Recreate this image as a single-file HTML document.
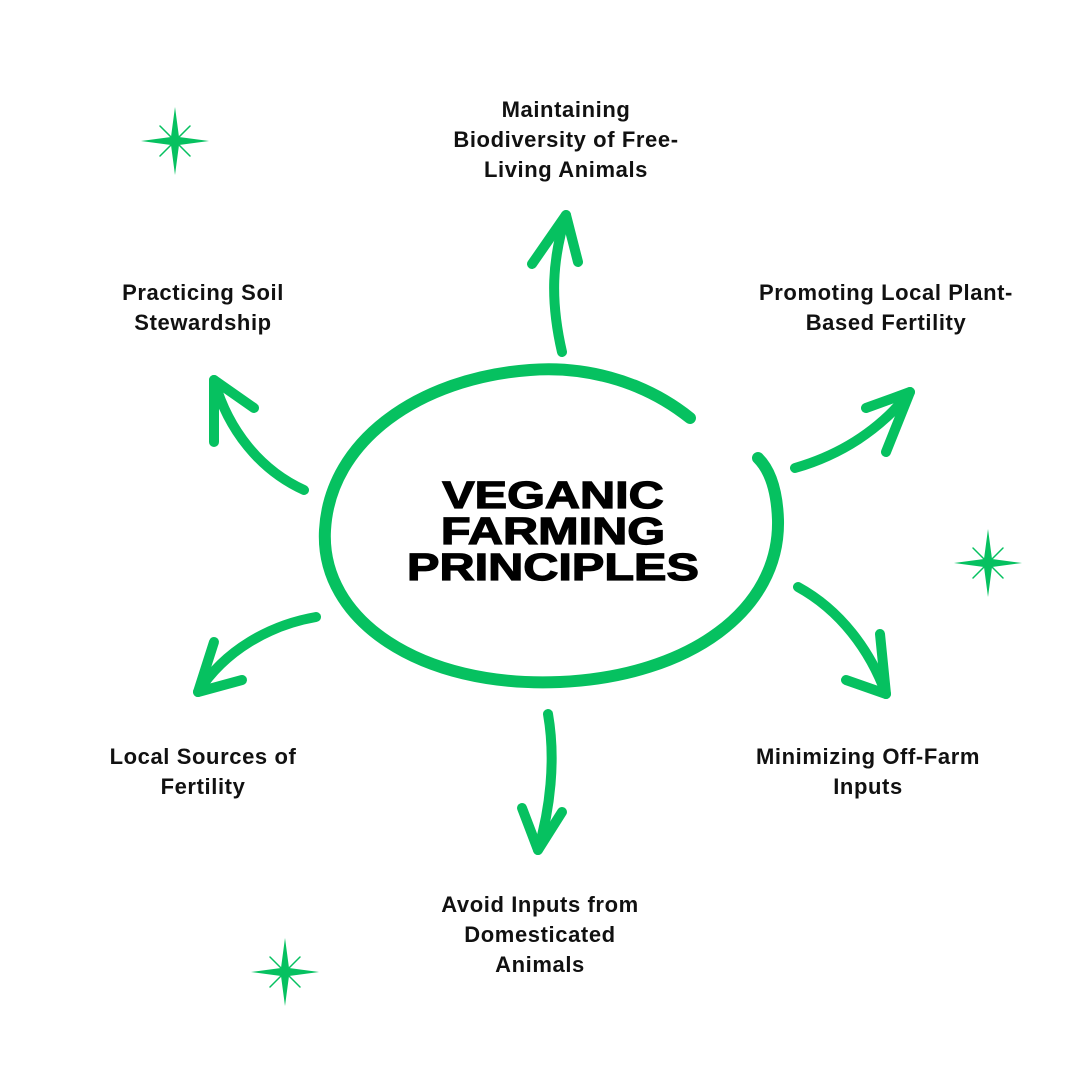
<!DOCTYPE html>
<html><head><meta charset="utf-8"><style>
html,body{margin:0;padding:0;background:#fff}
.wrap{position:relative;width:1080px;height:1080px;overflow:hidden;background:#fff}
.lbl{position:absolute;font-family:"Liberation Sans",sans-serif;font-weight:bold;font-size:22px;letter-spacing:0.6px;line-height:30px;color:#111;text-align:center;white-space:nowrap;transform:translateX(-50%)}
.title{position:absolute;left:553px;top:478px;transform:translateX(-50%) scaleX(1.28);font-family:"Liberation Sans",sans-serif;font-weight:900;font-size:38px;line-height:36px;color:#000;text-align:center;white-space:nowrap;-webkit-text-stroke:1.2px #000}
</style></head><body><div class="wrap">
<svg width="1080" height="1080" style="position:absolute;left:0;top:0" fill="none" stroke="#06c160" stroke-linecap="round" stroke-linejoin="round">
<path d="M690 418 C640 378 580 366 530 370 C420 378 330 440 325 530 C320 620 420 688 560 682 C690 676 780 610 778 520 C777 490 770 470 758 458" stroke-width="12"/>
<g stroke-width="10">
<path d="M562 352 C550 300 552 260 566 215"/><path d="M532 264 L566 215 L578 262"/>
<path d="M795 468 C840 455 880 430 910 392"/><path d="M866 408 L910 392 L886 452"/>
<path d="M798 587 C840 610 870 650 886 694"/><path d="M880 634 L886 694 L846 680"/>
<path d="M548 714 C556 760 550 810 538 850"/><path d="M522 808 L538 850 L562 812"/>
<path d="M316 617 C270 625 225 650 198 692"/><path d="M214 642 L198 692 L242 680"/>
<path d="M304 490 C260 470 228 430 214 380"/><path d="M214 442 L214 380 L254 408"/>
</g>
<g fill="#06c160" stroke="none">
<polygon points="175,107 179,137 209,141 179,145 175,175 171,145 141,141 171,137"/>
<polygon points="988,529 992,559 1022,563 992,567 988,597 984,567 954,563 984,559"/>
<polygon points="285,938 289,968 319,972 289,976 285,1006 281,976 251,972 281,968"/>
</g>
<g stroke="#06c160" stroke-width="1.5">
<path d="M160 126 L190 156 M190 126 L160 156"/>
<path d="M973 548 L1003 578 M1003 548 L973 578"/>
<path d="M270 957 L300 987 M300 957 L270 987"/>
</g>
</svg>
<div class="title">VEGANIC<br>FARMING<br>PRINCIPLES</div>
<div class="lbl" style="left:566px;top:95px">Maintaining<br>Biodiversity of Free-<br>Living Animals</div>
<div class="lbl" style="left:203px;top:278px">Practicing Soil<br>Stewardship</div>
<div class="lbl" style="left:886px;top:278px">Promoting Local Plant-<br>Based Fertility</div>
<div class="lbl" style="left:203px;top:742px">Local Sources of<br>Fertility</div>
<div class="lbl" style="left:868px;top:742px">Minimizing Off-Farm<br>Inputs</div>
<div class="lbl" style="left:540px;top:890px">Avoid Inputs from<br>Domesticated<br>Animals</div>
</div></body></html>
